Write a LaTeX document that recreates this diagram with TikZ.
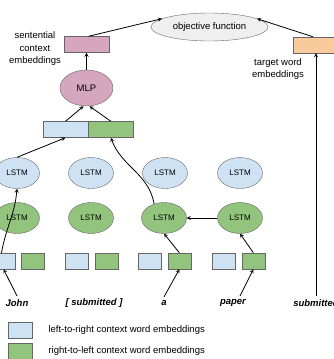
\documentclass[tikz,border=0pt]{standalone}
\usepackage{fontspec}
\setmainfont{Liberation Sans}
\usepackage{tikz}
\usetikzlibrary{shapes.geometric, arrows, positioning}
\definecolor{ltrblue}{HTML}{CFE2F3}
\definecolor{rtlgreen}{HTML}{93C47D}
\definecolor{ctxpink}{HTML}{D5A6BD}
\definecolor{tgtorange}{HTML}{F9CB9C}
\definecolor{objgray}{HTML}{EFEFEF}
\definecolor{edgegray}{HTML}{666666}
\tikzstyle{lstm} = [ellipse, minimum width=45pt, minimum height=31pt, inner sep=0pt, draw=edgegray, font=\fontsize{8}{9}\selectfont]
\tikzstyle{ltr} = [lstm, fill=ltrblue]
\tikzstyle{rtl} = [lstm, fill=rtlgreen]
\tikzstyle{embed} = [rectangle, minimum width=23pt, minimum height=16pt, inner sep=0pt, draw=edgegray]
\tikzstyle{vecbox} = [rectangle, minimum width=45pt, minimum height=16pt, inner sep=0pt, draw=edgegray]
\tikzstyle{word} = [font=\fontsize{9.5}{11}\selectfont\bfseries\itshape]
\tikzstyle{arrow} = [->, >=stealth, line width=0.8pt]

\begin{document}
\begin{tikzpicture}[x=1pt, y=-1pt, font=\fontsize{9.5}{12.5}\selectfont]
\useasboundingbox (0,0) rectangle (334,359);

% Objective and top embeddings
\node (obj) [ellipse, minimum width=117pt, minimum height=28pt, inner sep=0pt, draw=edgegray, fill=objgray] at (209.5,27) {objective function};
\node (sent) [vecbox, fill=ctxpink] at (86.5,44.5) {};
\node (sent_txt) [align=center] at (35,49) {sentential\\context\\embeddings};
\node (target) [vecbox, minimum width=46pt, fill=tgtorange] at (316,45) {};
\node (target_txt) [align=center] at (278,69) {target word\\embeddings};
\node (mlp) [ellipse, minimum width=53pt, minimum height=36pt, inner sep=0pt, draw=edgegray, fill=ctxpink] at (86.5,88) {MLP};

% Concatenated context vector
\node (cl) [vecbox, fill=ltrblue] at (65.5,129.5) {};
\node (cr) [vecbox, fill=rtlgreen, right=0pt of cl] {};

% LSTM layers
\node (f1) [ltr] at (17,173) {LSTM};
\node (f2) [ltr] at (91,173) {LSTM};
\node (f3) [ltr] at (165,173) {LSTM};
\node (f4) [ltr] at (240,173) {LSTM};
\node (b1) [rtl] at (17,218) {LSTM};
\node (b2) [rtl] at (91,218) {LSTM};
\node (b3) [rtl] at (164,218) {LSTM};
\node (b4) [rtl] at (240,218) {LSTM};

% Context word embeddings
\node (e1l) [embed, fill=ltrblue] at (3.5,261) {};
\node (e1r) [embed, fill=rtlgreen, right=6pt of e1l] {};
\node (e2l) [embed, fill=ltrblue] at (77,261) {};
\node (e2r) [embed, fill=rtlgreen, right=6pt of e2l] {};
\node (e3l) [embed, fill=ltrblue] at (150,261) {};
\node (e3r) [embed, fill=rtlgreen, right=6pt of e3l] {};
\node (e4l) [embed, fill=ltrblue] at (224,261) {};
\node (e4r) [embed, fill=rtlgreen, right=6pt of e4l] {};

% Words
\node (w1) [word] at (17,303) {John};
\node (w2) [word] at (94,303) {[ submitted ]};
\node (w3) [word] at (164,303) {a};
\node (w4) [word] at (233,303) {paper};
\node (w5) [word] at (316,303) {submitted};

% Legend
\node (lgb) [embed, minimum width=24pt, fill=ltrblue] at (20,330) {};
\node (lgg) [embed, minimum width=24pt, fill=rtlgreen, below=5pt of lgb] {};
\node (lgb_txt) [anchor=west] at (45,330) {left-to-right context word embeddings};
\node (lgg_txt) [anchor=west] at (45,351) {right-to-left context word embeddings};

% Arrows
\draw [arrow] ([xshift=2pt]sent.north) -- (obj.170);
\draw [arrow] ([xshift=-3pt]target.north) -- (obj.10);
\draw [arrow] (mlp.north) -- (sent.south);
\draw [arrow] (cl.north) -- ([xshift=-3pt]mlp.south);
\draw [arrow] (cr.north) -- ([xshift=3pt]mlp.south);
\draw [arrow] (f1.north) -- (cl.south);
\draw [arrow] (b3.125) to[out=100, in=-70] (cr.south);
\draw [arrow] (b4.west) -- (b3.east);
\draw [arrow] ([xshift=-2pt]e1l.north) to[out=80, in=-95] (f1.south);
\draw [arrow] (e3r.north) -- (b3.south);
\draw [arrow] (e4r.north) -- (b4.south);
\draw [arrow] (w1.north) -- (e1l.south);
\draw [arrow] (w3.north) -- (e3r.south);
\draw [arrow] ([xshift=7pt]w4.north) -- (e4r.south);
\draw [arrow] (w5.north) -- (target.south);

\end{tikzpicture}
\end{document}
